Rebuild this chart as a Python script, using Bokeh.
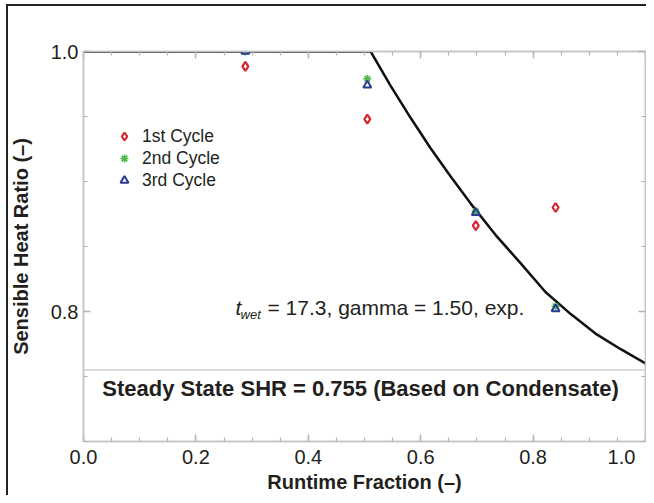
from bokeh.plotting import figure
from bokeh.models import (Range1d, LinearAxis, FixedTicker, Span, Label,
                          Legend, LegendItem, PrintfTickFormatter,
                          CustomJSTickFormatter)
from bokeh.embed import file_html
from bokeh.resources import INLINE

# ---- data -------------------------------------------------------------
runtime_1 = [0.288, 0.505, 0.698, 0.840]
shr_1 = [0.9885, 0.948, 0.866, 0.880]
runtime_2 = [0.288, 0.505, 0.698, 0.840]
shr_2 = [1.0, 0.979, 0.877, 0.804]
runtime_3 = [0.288, 0.505, 0.698, 0.840]
shr_3 = [1.0, 0.974, 0.876, 0.802]

model_rtf = [0.0, 0.511, 0.546, 0.582, 0.617, 0.653, 0.689, 0.733, 0.778,
             0.822, 0.867, 0.911, 0.956, 1.0]
model_shr = [1.0, 1.0, 0.974, 0.949, 0.926, 0.904, 0.883, 0.859, 0.837,
             0.815, 0.798, 0.783, 0.771, 0.760]

steady_state_shr = 0.755

x_ticks = [0.0, 0.2, 0.4, 0.6, 0.8, 1.0]
x_minor = [0.05 * i for i in range(21)]
y_ticks = [0.8, 1.0]
y_minor = [0.70, 0.75, 0.85, 0.90, 0.95]

FONT = "Liberation Sans"
TXT = "#231f20"
GRAY = "#c4c4c4"

frame_css = ("linear-gradient(#222,#222) 6px 4px / 2px 100% no-repeat, "
             "linear-gradient(#222,#222) 6px 4px / 100% 2px no-repeat, white")

p = figure(width=646, height=495, output_backend="svg", toolbar_location=None,
           x_range=Range1d(0.0, 1.0), y_range=Range1d(0.70, 1.0),
           min_border_left=83, min_border_top=51, min_border_right=1,
           min_border_bottom=53, styles={"background": frame_css})
p.xgrid.visible = False
p.ygrid.visible = False
p.outline_line_color = GRAY
p.outline_line_width = 1.5
p.background_fill_color = "white"
p.border_fill_color = None

blank = CustomJSTickFormatter(code="return ''")


def style_axis(ax, ticks, minor, labels=True):
    ax.ticker = FixedTicker(ticks=ticks, minor_ticks=minor)
    ax.axis_line_color = GRAY
    ax.axis_line_width = 1.5
    ax.major_tick_line_color = "#b4b4b4"
    ax.major_tick_line_width = 1.5
    ax.minor_tick_line_color = "#b4b4b4"
    ax.minor_tick_line_width = 1.2
    ax.major_tick_in = 7
    ax.major_tick_out = 0
    ax.minor_tick_in = 4
    ax.minor_tick_out = 0
    ax.major_label_text_font = FONT
    ax.major_label_text_color = TXT
    ax.major_label_text_font_size = "20px"
    ax.axis_label_text_font = FONT
    ax.axis_label_text_font_style = "bold"
    ax.axis_label_text_color = TXT
    ax.axis_label_text_font_size = "20px"
    if labels:
        ax.formatter = PrintfTickFormatter(format="%.1f")
    else:
        ax.formatter = blank
        ax.major_label_standoff = 0


xb = p.xaxis[0]
style_axis(xb, x_ticks, x_minor)
xb.axis_label = "Runtime Fraction (–)"
xb.major_label_standoff = 4
xb.axis_label_standoff = 0
xb.major_label_overrides = {1.0: "1.0" + "\u00a0" * 2}

yl = p.yaxis[0]
style_axis(yl, y_ticks, y_minor)
yl.axis_label = "Sensible Heat Ratio (–)"
yl.major_label_standoff = 5
yl.axis_label_standoff = 16

xt = LinearAxis()
style_axis(xt, x_ticks, x_minor, labels=False)
p.add_layout(xt, "above")
yr = LinearAxis()
style_axis(yr, y_ticks, y_minor, labels=False)
p.add_layout(yr, "right")

# steady state line
p.add_layout(Span(location=steady_state_shr, dimension="width",
                  line_color="#cfcfcf", line_width=1.5))

# model curve
p.line(model_rtf, model_shr, line_color="#111111", line_width=2.5)

r1 = p.scatter(runtime_1, shr_1, marker="diamond", size=9, fill_color=None,
               line_color="#d8262e", line_width=2.2)
r2 = p.scatter(runtime_2, shr_2, marker="asterisk", size=8,
               line_color="#4db848", line_width=1.6)
r3 = p.scatter(runtime_3, shr_3, marker="triangle", size=8, fill_color=None,
               line_color="#2b3990", line_width=2)

legend = Legend(items=[LegendItem(label="1st Cycle", renderers=[r1]),
                       LegendItem(label="2nd Cycle", renderers=[r2]),
                       LegendItem(label="3rd Cycle", renderers=[r3])],
                location=(31, 250), border_line_color=None,
                background_fill_alpha=0, padding=0, margin=0, spacing=0,
                glyph_width=20, glyph_height=22, label_height=22,
                label_standoff=8,
                label_text_font=FONT, label_text_font_size="17.5px",
                label_text_color=TXT, label_text_baseline="middle")
p.add_layout(legend)

# annotations
p.add_layout(Label(x=0.2705, y=0.803, text="t", text_font=FONT,
                   text_font_style="italic", text_font_size="21px",
                   text_color=TXT, text_baseline="alphabetic"))
p.add_layout(Label(x=0.2794, y=0.7975, text="wet", text_font=FONT,
                   text_font_style="italic", text_font_size="13px",
                   text_color=TXT, text_baseline="alphabetic"))
p.add_layout(Label(x=0.3274, y=0.803, text="= 17.3, gamma = 1.50, exp.",
                   text_font=FONT, text_font_size="21px", text_color=TXT,
                   text_baseline="alphabetic"))
p.add_layout(Label(x=0.493, y=0.741,
                   text="Steady State SHR = 0.755 (Based on Condensate)",
                   text_font=FONT, text_font_style="bold", text_font_size="22px",
                   text_color=TXT, text_align="center", text_baseline="middle"))

open("out.html", "w").write(file_html(p, INLINE))
